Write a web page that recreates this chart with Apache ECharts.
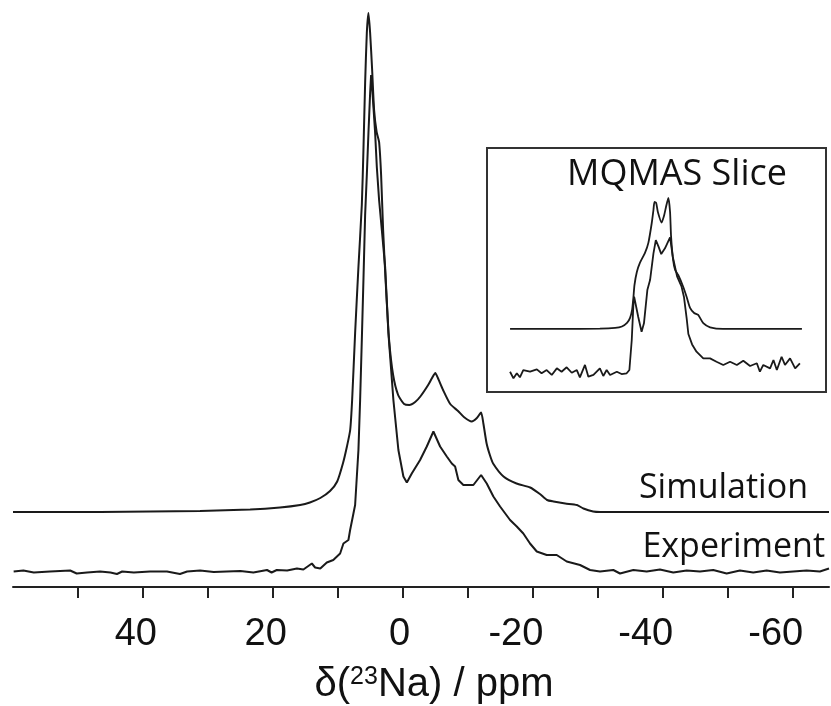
<!DOCTYPE html>
<html>
<head>
<meta charset="utf-8">
<title>23Na MAS NMR</title>
<script src="https://cdn.jsdelivr.net/npm/echarts@6/dist/echarts.min.js"></script>
<style>
  html, body { margin: 0; padding: 0; background: #fff; }
  #chart { width: 831px; height: 706px; }
</style>
</head>
<body>
<div id="chart"></div>
<script>
// main spectrum: chemical shift (ppm) and intensity (peak ~ 100)
var simPpm = [60, 46.6, 31.2, 23.5, 18.9, 15.8, 14.3, 12.7, 11.2, 10.1, 9.2, 8.6, 8.1, 7.8, 7.34, 6.83,
  6.31, 6.06, 5.8, 5.54, 5.29, 5.03, 4.72, 4.42, 4.03, 3.65, 3.34, 3.03, 2.57, 2.11, 1.49, 0.72,
  -0.2, -1.0, -1.9, -2.7, -3.9, -4.5, -5.0, -5.4, -6.2, -7.3, -8.5, -9.4, -10.6, -11.4, -12.05,
  -12.4, -12.9, -13.4, -13.9, -15.5, -17.5, -19.6, -21.1, -22.2, -23.2, -25.0, -26.8, -27.8,
  -29.3, -30.4, -65.6];
var simInt = [0, 0, 0.2, 0.5, 0.9, 1.4, 1.9, 2.8, 4.2, 6.1, 9.8, 13.1, 16.4, 22.4, 35.8, 49,
  61.4, 72.4, 85.8, 95.8, 99.8, 95.8, 88.4, 80.4, 76, 74, 67.4, 56.4, 44.4, 34.4, 27.4, 23.4,
  21.6, 21.4, 22, 23.1, 25.4, 26.8, 27.8, 26.8, 24.4, 21.6, 20.2, 19, 18.1, 18.8, 19.9,
  17.7, 13.7, 11.4, 9.7, 7.1, 5.7, 4.9, 3.6, 2.4, 2.1, 1.7, 1.4, 0.7,
  0.1, 0, 0];

var expPpm = [59.9, 58.4, 56.8, 54.3, 51.2, 50.2, 48.6, 46.6, 45.0, 44.0, 43.2, 41.4, 38.9, 36.3,
  34.3, 33.2, 31.2, 29.1, 27.1, 25.0, 23.0, 20.9, 20.2, 19.4, 17.8, 16.3, 15.3, 14.0, 13.5, 12.7,
  11.7, 10.7, 9.65, 9.14, 8.37, 8.11, 7.6, 7.34, 6.83, 6.57, 6.31, 6.06, 5.8, 5.54, 5.29, 5.03,
  4.88, 4.77, 4.52, 4.26, 4.0, 3.65, 3.23, 2.72, 2.22, 1.45, 0.68, -0.09, -0.62, -1.38, -2.66,
  -3.69, -4.71, -5.74, -6.77, -7.54, -8.05, -8.55, -9.32, -10.86, -12.05, -12.92, -13.94, -14.97,
  -16.51, -17.54, -18.55, -19.58, -20.62, -22.15, -23.69, -25.23, -27.28, -28.82, -30.35, -32.4,
  -33.43, -35.48, -37.54, -39.58, -41.63, -43.69, -45.74, -47.78, -49.85, -51.89, -53.94, -56.0,
  -58.05, -60.09, -62.15, -64.2, -65.6];
var expInt = [0.1, 0.3, -0.1, 0.1, 0.3, -0.3, -0.1, 0.1, -0.1, -0.4, 0.1, -0.1, 0.1, 0.1,
  -0.4, 0.1, 0.3, 0, 0.1, 0.2, -0.1, 0.4, -0.1, 0.4, 0.3, 0.7, 0.5, 1.7, 0.9, 0.7,
  1.9, 2.4, 3.7, 5.7, 6.4, 8.4, 11.7, 13.4, 24.4, 34.4, 46.4, 58.4, 71.4, 79.4, 87.8, 95.8,
  99.4, 97.8, 93, 87.8, 81, 74.4, 68.4, 61, 47.8, 34.4, 24.4, 19.1, 17.9, 19.7, 22.4,
  25.1, 28.1, 25.1, 23.1, 21.7, 21.1, 18.4, 17.4, 17.4, 19.4, 17.7, 15.1, 13.1,
  10.4, 9.1, 7.7, 5.7, 4.1, 3.4, 3.4, 2.1, 1.4, 0.4, 0.1, 0.4,
  -0.3, 0.4, 0.1, 0.5, -0.1, 0.3, 0.1, 0.4, -0.3, 0.3, -0.1, 0.3,
  -0.1, 0.1, 0.3, 0.1, 0.7];

// inset (MQMAS slice), arbitrary x units 0..100
var sliceSimX = [6.8, 21.5, 33.3, 37.8, 39.8, 41.3, 42.2, 42.8, 43.2, 43.5, 44.2, 45.1, 46.6, 47.6,
  48.6, 49.1, 49.4, 49.9, 50.4, 51.5, 52.2, 52.8, 53.5, 54.0, 54.3, 54.9, 55.5, 56.4, 57.9, 58.9,
  59.9, 61.1, 62.3, 63.8, 65.8, 69.6, 92.9];
var sliceSimY = [0, 0, 0.2, 0.8, 1.9, 4.6, 8.5, 14.6, 24.6, 33.8, 43.8, 50.8, 58.5, 66.2,
  81.5, 91.5, 97.7, 96.9, 90, 81.9, 86.9, 93.8, 100.8, 90, 71, 53.1, 45.4, 41.5, 32.3, 24.6,
  16.2, 12.3, 10.8, 4.4, 1.3, 0, 0];

var sliceExpX = [6.8, 7.8, 8.8, 9.7, 10.7, 12.7, 14.7, 16.1, 17.6, 19.1, 20.6, 22.0, 23.5, 25.0,
  26.5, 27.4, 28.9, 29.9, 31.4, 33.3, 34.3, 35.3, 36.3, 38.3, 39.7, 41.2, 42.0, 42.7, 43.2, 43.4,
  43.9, 44.6, 45.6, 46.3, 46.9, 47.3, 48.1, 49.1, 49.8, 50.6, 51.4, 52.5, 54.0, 54.8, 56.1, 57.4,
  58.1, 58.9, 59.4, 60.5, 61.8, 63.8, 65.8, 67.7, 69.7, 71.7, 73.7, 75.6, 77.6, 79.6, 80.5, 81.5,
  83.5, 84.5, 85.5, 86.9, 87.9, 89.4, 90.9, 92.3];
var sliceExpY = [1.0, -4.1, -0.2, -3.3, 2.3, 1.0, 2.8, -0.2, 2.3, -1.5, 3.6, 1.0, 4.4, 0.2,
  2.3, -3.3, 6.2, -2.8, -1.5, 3.6, -2.3, 2.3, -1.5, 1.0, -0.8, -0.2, 2.3, 25.4, 53.6, 58.7,
  52.3, 43.3, 31.8, 38.2, 53.6, 63.8, 71.5, 92.1, 102.3, 97.2, 91.5, 95.9, 104.4, 89.5, 74.1, 66.4,
  58.5, 42, 30, 22, 16.4, 11.3, 11.3, 8.7, 6.2, 8.7, 6.2, 9.5, 5.4, 7.5, 1.0, 6.2,
  3.6, 10, 2.3, 12.5, 6.2, 11.3, 3.6, 7.5];

var tickValues = [50, 40, 30, 20, 10, 0, -10, -20, -30, -40, -50, -60];
var labelValues = [40, 20, 0, -20, -40, -60];

function pairs(xs, ys) {
  var out = [];
  for (var i = 0; i < xs.length; i++) out.push([xs[i], ys[i]]);
  return out;
}
// labels in the figure sit a little left of their ticks
function nudge(v) { return v < 0 ? v + 2.6 : (v > 0 ? v + 1.1 : v + 0.5); }

var INK = '#1a1a1a';
var lineBase = { type: 'line', showSymbol: false, symbol: 'none', silent: true,
  lineStyle: { color: INK, width: 2 }, animation: false };

var myChart = echarts.init(document.getElementById('chart'), null, { renderer: 'canvas' });
var option = {
  backgroundColor: '#fff',
  animation: false,
  title: [
    { text: 'Simulation', right: 23, top: 471, padding: 0,
      textStyle: { fontFamily: 'Open Sans', fontSize: 34, fontWeight: 'normal', color: '#111' } },
    { text: 'Experiment', right: 6, top: 530, padding: 0,
      textStyle: { fontFamily: 'Open Sans', fontSize: 34, fontWeight: 'normal', color: '#111' } },
    { text: 'MQMAS Slice', left: 567, top: 157, padding: 0,
      textStyle: { fontFamily: 'Open Sans', fontSize: 36, fontWeight: 'normal', color: '#111' } }
  ],
  grid: [
    { left: 13, right: 2, top: 0, bottom: 119, outerBoundsMode: 'none', containLabel: false },
    { left: 487, right: 5, top: 148, bottom: 314, outerBoundsMode: 'none', containLabel: false,
      show: true, borderColor: '#333', borderWidth: 2, backgroundColor: 'rgba(0,0,0,0)' }
  ],
  xAxis: [
    { type: 'value', gridIndex: 0, min: -65.6, max: 60, inverse: true,
      splitLine: { show: false },
      axisLine: { show: true, onZero: false, lineStyle: { color: '#222', width: 2 } },
      axisTick: { show: true, inside: false, length: 11, customValues: tickValues,
        lineStyle: { color: '#222', width: 2 } },
      axisLabel: { show: true, margin: 29, customValues: labelValues.map(nudge),
        formatter: function (v) { return String(Math.round(v / 20) * 20); },
        fontFamily: 'Liberation Sans', fontSize: 38, color: '#111' },
      name: '{d|δ(}{sup|23}{d|Na) / ppm}',
      nameLocation: 'middle', nameGap: 78,
      nameTextStyle: { padding: [0, 0, 0, 26],
        rich: {
          d: { fontFamily: 'Liberation Sans', fontSize: 40, lineHeight: 40, color: '#111' },
          sup: { fontFamily: 'Liberation Sans', fontSize: 25, lineHeight: 25, padding: [0, 0, 16, 0], color: '#111' }
        } } },
    { type: 'value', gridIndex: 1, min: 0, max: 100, show: false }
  ],
  yAxis: [
    { type: 'value', gridIndex: 0, min: -3, max: 114.4, show: false },
    { type: 'value', gridIndex: 0, min: -15, max: 102.4, show: false },
    { type: 'value', gridIndex: 1, min: -14.6, max: 173.1, show: false },
    { type: 'value', gridIndex: 1, min: -48.5, max: 139.2, show: false }
  ],
  series: [
    Object.assign({}, lineBase, { name: 'Experiment', xAxisIndex: 0, yAxisIndex: 0,
      data: pairs(expPpm, expInt) }),
    Object.assign({}, lineBase, { name: 'Simulation', xAxisIndex: 0, yAxisIndex: 1, smooth: 0.2,
      data: pairs(simPpm, simInt) }),
    Object.assign({}, lineBase, { name: 'Slice experiment', xAxisIndex: 1, yAxisIndex: 2,
      lineStyle: { color: INK, width: 1.8 }, data: pairs(sliceExpX, sliceExpY) }),
    Object.assign({}, lineBase, { name: 'Slice simulation', xAxisIndex: 1, yAxisIndex: 3, smooth: 0.2,
      lineStyle: { color: INK, width: 1.8 }, data: pairs(sliceSimX, sliceSimY) })
  ]
};
myChart.setOption(option);
</script>
</body>
</html>
